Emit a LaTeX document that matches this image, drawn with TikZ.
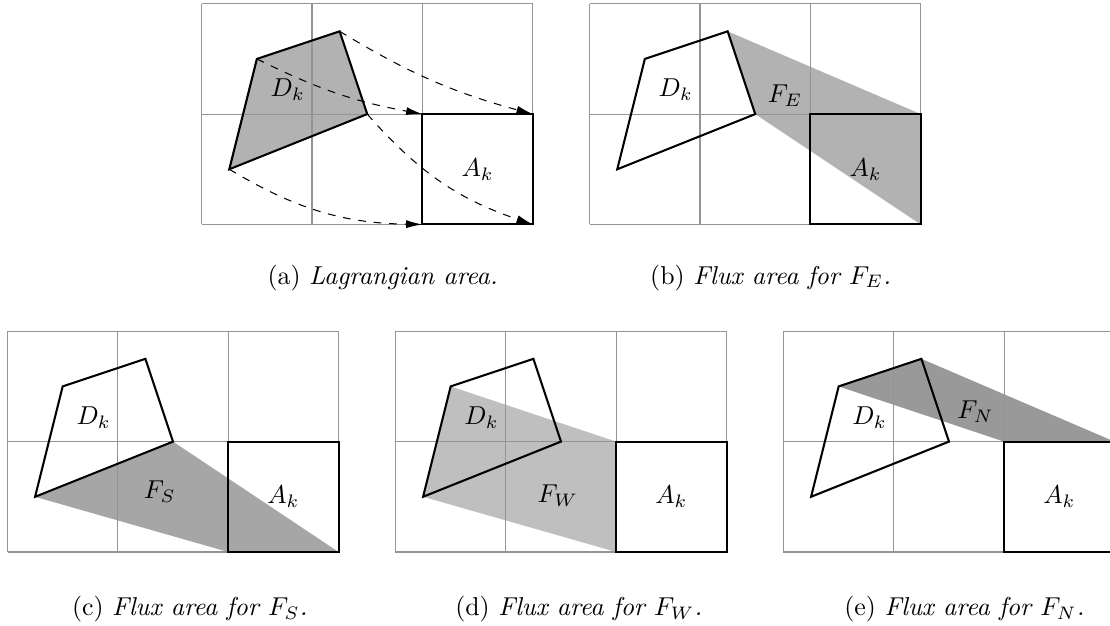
\documentclass[tikz,border=0pt]{standalone}
\usetikzlibrary{arrows.meta}
\begin{document}
\begin{tikzpicture}[x=1.5cm,y=1.5cm,
  gridline/.style={draw=black!42, line width=0.45pt},
  quad/.style={draw=black, line width=0.8pt, line join=miter},
  akbox/.style={draw=black, line width=0.8pt},
  mapto/.style={dashed, line width=0.4pt, -{Latex[length=6.3pt,width=3.1pt]}},
  lbl/.style={inner sep=0pt},
  captext/.style={anchor=base, inner sep=0pt}]
\useasboundingbox (0,0) rectangle (10.059,5.664);
\clip (0,0) rectangle (10.059,5.664);

% ---------- (a) Lagrangian area ----------
\begin{scope}[shift={(1.828,3.630)}]
  \coordinate (a1) at (0.5,1.5);
  \coordinate (a2) at (1.25,1.75);
  \coordinate (a3) at (1.5,1);
  \coordinate (a4) at (0.25,0.5);
  \coordinate (aSW) at (2,0);
  \coordinate (aSE) at (3,0);
  \coordinate (aNW) at (2,1);
  \coordinate (aNE) at (3,1);
  \fill[black!30] (a1)--(a2)--(a3)--(a4)--cycle;
  \draw[gridline] (0,0) grid[step=1.5cm] (3,2);
  \draw[quad] (a1)--(a2)--(a3)--(a4)--cycle;
  \draw[akbox] (aSW) rectangle (aNE);
  \draw[mapto] (a1) to[bend right=8] (aNW);
  \draw[mapto] (a2) to[bend right=8] (aNE);
  \draw[mapto] (a3) to[bend right=15] (aSE);
  \draw[mapto] (a4) to[bend right=15] (aSW);
  \node[lbl] (aD) at (0.78,1.22) {$D_k$};
  \node[lbl] (aA) at (2.5,0.5) {$A_k$};
\end{scope}
\node[captext] (capa) at (3.468,3.090) {(a) \textit{Lagrangian area.}};

% ---------- (b) Flux area for F_E ----------
\begin{scope}[shift={(5.344,3.630)}]
  \coordinate (b1) at (0.5,1.5);
  \coordinate (b2) at (1.25,1.75);
  \coordinate (b3) at (1.5,1);
  \coordinate (b4) at (0.25,0.5);
  \coordinate (bSW) at (2,0);
  \coordinate (bSE) at (3,0);
  \coordinate (bNW) at (2,1);
  \coordinate (bNE) at (3,1);
  \fill[black!30] (b2)--(bNE)--(bSE)--(b3)--cycle;
  \draw[gridline] (0,0) grid[step=1.5cm] (3,2);
  \draw[quad] (b1)--(b2)--(b3)--(b4)--cycle;
  \draw[akbox] (bSW) rectangle (bNE);
  \node[lbl] (bD) at (0.78,1.22) {$D_k$};
  \node[lbl] (bF) at (1.77,1.17) {$F_E$};
  \node[lbl] (bA) at (2.5,0.5) {$A_k$};
\end{scope}
\node[captext] (capb) at (6.984,3.090) {(b) \textit{Flux area for $F_E$.}};

% ---------- (c) Flux area for F_S ----------
\begin{scope}[shift={(0.068,0.662)}]
  \coordinate (c1) at (0.5,1.5);
  \coordinate (c2) at (1.25,1.75);
  \coordinate (c3) at (1.5,1);
  \coordinate (c4) at (0.25,0.5);
  \coordinate (cSW) at (2,0);
  \coordinate (cSE) at (3,0);
  \coordinate (cNW) at (2,1);
  \coordinate (cNE) at (3,1);
  \fill[black!35] (c4)--(c3)--(cSE)--(cSW)--cycle;
  \draw[gridline] (0,0) grid[step=1.5cm] (3,2);
  \draw[quad] (c1)--(c2)--(c3)--(c4)--cycle;
  \draw[akbox] (cSW) rectangle (cNE);
  \node[lbl] (cD) at (0.78,1.22) {$D_k$};
  \node[lbl] (cF) at (1.38,0.55) {$F_S$};
  \node[lbl] (cA) at (2.5,0.5) {$A_k$};
\end{scope}
\node[captext] (capc) at (1.720,0.085) {(c) \textit{Flux area for $F_S$.}};

% ---------- (d) Flux area for F_W ----------
\begin{scope}[shift={(3.584,0.662)}]
  \coordinate (d1) at (0.5,1.5);
  \coordinate (d2) at (1.25,1.75);
  \coordinate (d3) at (1.5,1);
  \coordinate (d4) at (0.25,0.5);
  \coordinate (dSW) at (2,0);
  \coordinate (dSE) at (3,0);
  \coordinate (dNW) at (2,1);
  \coordinate (dNE) at (3,1);
  \fill[black!25] (d1)--(dNW)--(dSW)--(d4)--cycle;
  \draw[gridline] (0,0) grid[step=1.5cm] (3,2);
  \draw[quad] (d1)--(d2)--(d3)--(d4)--cycle;
  \draw[akbox] (dSW) rectangle (dNE);
  \node[lbl] (dD) at (0.78,1.22) {$D_k$};
  \node[lbl] (dF) at (1.47,0.51) {$F_W$};
  \node[lbl] (dA) at (2.5,0.5) {$A_k$};
\end{scope}
\node[captext] (capd) at (5.245,0.085) {(d) \textit{Flux area for $F_W$.}};

% ---------- (e) Flux area for F_N ----------
\begin{scope}[shift={(7.100,0.662)}]
  \coordinate (e1) at (0.5,1.5);
  \coordinate (e2) at (1.25,1.75);
  \coordinate (e3) at (1.5,1);
  \coordinate (e4) at (0.25,0.5);
  \coordinate (eSW) at (2,0);
  \coordinate (eSE) at (3,0);
  \coordinate (eNW) at (2,1);
  \coordinate (eNE) at (3,1);
  \fill[black!40] (e1)--(e2)--(eNE)--(eNW)--cycle;
  \draw[gridline] (0,0) grid[step=1.5cm] (3,2);
  \draw[quad] (e1)--(e2)--(e3)--(e4)--cycle;
  \draw[akbox] (eSW) rectangle (eNE);
  \node[lbl] (eD) at (0.78,1.22) {$D_k$};
  \node[lbl] (eF) at (1.74,1.27) {$F_N$};
  \node[lbl] (eA) at (2.5,0.5) {$A_k$};
\end{scope}
\node[captext] (cape) at (8.740,0.085) {(e) \textit{Flux area for $F_N$.}};
\end{tikzpicture}
\end{document}
